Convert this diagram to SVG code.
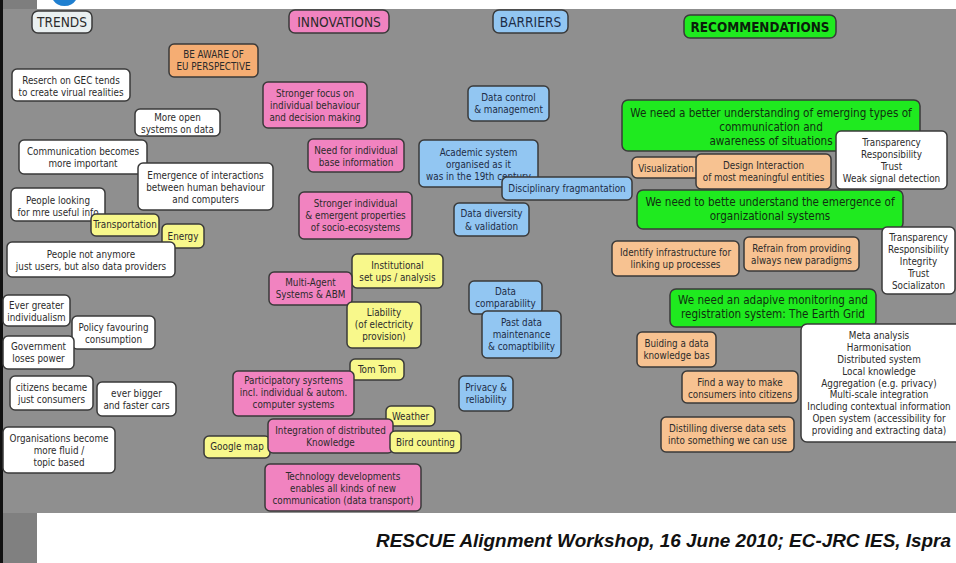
<svg xmlns="http://www.w3.org/2000/svg" width="956" height="563" viewBox="0 0 956 563">
  <style>
    .node rect { stroke: #3a3a3a; stroke-width: 1.5; }
    .node text { font-family: "DejaVu Sans Condensed", "DejaVu Sans", sans-serif; font-size: 9.8px; text-anchor: middle; fill: #2b2b2b; }
    .white rect { fill: #ffffff; }
    .pink rect { fill: #f183c0; }
    .blue rect { fill: #92c6f2; }
    .blue text { fill: #1d2c46; }
    .yellow rect { fill: #f8f88b; }
    .peach rect { fill: #f7c291; }
    .orange rect { fill: #f5ad73; }
    .green rect { fill: #1fea1f; }
    .green text { font-size: 11.6px; fill: #103010; }
    .head text { font-size: 13.6px; }
    .head.green text { font-weight: bold; font-size: 13.4px; fill: #0a1f0a; }
    .trends rect { fill: #e9eff0; }
    .footer { font-family: "Liberation Sans", Arial, sans-serif; font-weight: bold; font-style: italic; font-size: 19px; fill: #111111; }
  </style>

  <!-- page frame -->
  <rect x="0" y="0" width="956" height="563" fill="#ffffff"/>
  <rect x="3" y="0" width="34" height="9" fill="#7e7e7e"/>
  <rect x="3" y="9" width="953" height="504" fill="#8f8f8f"/>
  <rect x="3" y="513" width="34" height="50" fill="#808080"/>
  <rect x="0" y="0" width="3" height="563" fill="#111111"/>
  <path d="M53,0 L76,0 Q72,6 64.5,6 Q57,6 53,0 Z" fill="#1f7fd0"/>

  <g id="connectors"/>

  <!-- column headings -->
  <g id="h-trends" class="node head trends"><rect x="32" y="11" width="60" height="22" rx="6"/><text x="62" y="27">TRENDS</text></g>
  <g id="h-innovations" class="node head pink"><rect x="289" y="10" width="100" height="23" rx="6"/><text x="339" y="26.5">INNOVATIONS</text></g>
  <g id="h-barriers" class="node head blue"><rect x="493" y="10" width="75" height="23" rx="6"/><text x="530.5" y="26.5">BARRIERS</text></g>
  <g id="h-recommendations" class="node head green"><rect x="684" y="15" width="152" height="23" rx="6"/><text x="760" y="31.5">RECOMMENDATIONS</text></g>

  <!-- trends -->
  <g id="t-gec" class="node white"><rect x="12" y="69" width="118" height="32" rx="5"/><text x="71" y="84">Reserch on GEC tends</text><text x="71" y="96">to create virual realities</text></g>
  <g id="t-open" class="node white"><rect x="135" y="109" width="85" height="27" rx="5"/><text x="177.5" y="121">More open</text><text x="177.5" y="133">systems on data</text></g>
  <g id="t-communication" class="node white"><rect x="19" y="140" width="128" height="34" rx="5"/><text x="83" y="155">Communication becomes</text><text x="83" y="167">more important</text></g>
  <g id="t-emergence" class="node white"><rect x="138" y="163" width="135" height="47" rx="5"/><text x="205.5" y="179">Emergence of interactions</text><text x="205.5" y="191">between human behaviour</text><text x="205.5" y="203">and computers</text></g>
  <g id="t-info" class="node white"><rect x="11" y="188" width="94" height="33" rx="5"/><text x="58" y="204">People looking</text><text x="58" y="216">for mre useful info</text></g>
  <g id="y-transportation" class="node yellow"><rect x="91" y="214" width="68" height="22" rx="5"/><text x="125" y="228">Transportation</text></g>
  <g id="y-energy" class="node yellow"><rect x="162" y="224" width="42" height="24" rx="5"/><text x="183" y="240">Energy</text></g>
  <g id="t-providers" class="node white"><rect x="7" y="242" width="168" height="35" rx="5"/><text x="91" y="258">People not anymore</text><text x="91" y="270">just users, but also data providers</text></g>
  <g id="t-individualism" class="node white"><rect x="3" y="295" width="67" height="31" rx="5"/><text x="36.5" y="309">Ever greater</text><text x="36.5" y="321">individualism</text></g>
  <g id="t-policy" class="node white"><rect x="72" y="316" width="83" height="33" rx="5"/><text x="113.5" y="331">Policy favouring</text><text x="113.5" y="343">consumption</text></g>
  <g id="t-government" class="node white"><rect x="3" y="336" width="71" height="33" rx="5"/><text x="38.5" y="350">Government</text><text x="38.5" y="362">loses power</text></g>
  <g id="t-consumers" class="node white"><rect x="10" y="376" width="83" height="34" rx="5"/><text x="51.5" y="391">citizens became</text><text x="51.5" y="403">just consumers</text></g>
  <g id="t-cars" class="node white"><rect x="97" y="382" width="79" height="34" rx="5"/><text x="136.5" y="397">ever bigger</text><text x="136.5" y="409">and faster cars</text></g>
  <g id="t-organisations" class="node white"><rect x="3" y="427" width="112" height="46" rx="5"/><text x="59" y="442">Organisations become</text><text x="59" y="454">more fluid /</text><text x="59" y="466">topic based</text></g>

  <!-- innovations -->
  <g id="o-eu" class="node orange"><rect x="169" y="44" width="89" height="33" rx="5"/><text x="213.5" y="58">BE AWARE OF</text><text x="213.5" y="70">EU PERSPECTIVE</text></g>
  <g id="p-focus" class="node pink"><rect x="263" y="82" width="104" height="46" rx="5"/><text x="315" y="97">Stronger focus on</text><text x="315" y="109">individual behaviour</text><text x="315" y="121">and decision making</text></g>
  <g id="p-base" class="node pink"><rect x="308" y="139" width="96" height="33" rx="5"/><text x="356" y="154">Need for individual</text><text x="356" y="166">base information</text></g>
  <g id="p-properties" class="node pink"><rect x="299" y="192" width="113" height="47" rx="5"/><text x="355.5" y="207">Stronger individual</text><text x="355.5" y="219">&amp; emergent properties</text><text x="355.5" y="231">of socio-ecosystems</text></g>
  <g id="y-institutional" class="node yellow"><rect x="352" y="254" width="91" height="34" rx="5"/><text x="397.5" y="269">Institutional</text><text x="397.5" y="281">set ups / analysis</text></g>
  <g id="p-mas" class="node pink"><rect x="269" y="272" width="83" height="33" rx="5"/><text x="310.5" y="286">Multi-Agent</text><text x="310.5" y="298">Systems &amp; ABM</text></g>
  <g id="y-liability" class="node yellow"><rect x="347" y="302" width="74" height="46" rx="5"/><text x="384" y="316">Liability</text><text x="384" y="328">(of electricity</text><text x="384" y="340">provision)</text></g>
  <g id="y-tomtom" class="node yellow"><rect x="350" y="359" width="54" height="21" rx="5"/><text x="377" y="373">Tom Tom</text></g>
  <g id="p-participatory" class="node pink"><rect x="233" y="371" width="121" height="45" rx="5"/><text x="293.5" y="384">Participatory sysrtems</text><text x="293.5" y="396">incl. individual &amp; autom.</text><text x="293.5" y="408">computer systems</text></g>
  <g id="y-weather" class="node yellow"><rect x="386" y="406" width="49" height="20" rx="5"/><text x="410.5" y="420">Weather</text></g>
  <g id="y-google" class="node yellow"><rect x="204" y="436" width="66" height="22" rx="5"/><text x="237" y="450">Google map</text></g>
  <g id="p-integration" class="node pink"><rect x="268" y="419" width="125" height="34" rx="5"/><text x="330.5" y="434">Integration of distributed</text><text x="330.5" y="446">Knowledge</text></g>
  <g id="y-bird" class="node yellow"><rect x="390" y="431" width="71" height="22" rx="5"/><text x="425.5" y="446">Bird counting</text></g>
  <g id="p-technology" class="node pink"><rect x="265" y="464" width="156" height="47" rx="5"/><text x="343" y="480">Technology developments</text><text x="343" y="492">enables all kinds of new</text><text x="343" y="504">communication (data transport)</text></g>

  <!-- barriers -->
  <g id="b-control" class="node blue"><rect x="468" y="86" width="81" height="35" rx="5"/><text x="508.5" y="101">Data control</text><text x="508.5" y="113">&amp; management</text></g>
  <g id="b-academic" class="node blue"><rect x="419" y="140" width="119" height="47" rx="5"/><text x="478.5" y="156">Academic system</text><text x="478.5" y="168">organised as it</text><text x="478.5" y="180">was in the 19th century</text></g>
  <g id="b-fragmentation" class="node blue"><rect x="502" y="177" width="130" height="23" rx="5"/><text x="567" y="192">Disciplinary fragmantation</text></g>
  <g id="b-diversity" class="node blue"><rect x="454" y="203" width="75" height="33" rx="5"/><text x="491.5" y="217">Data diversity</text><text x="491.5" y="230">&amp; validation</text></g>
  <g id="b-comparability" class="node blue"><rect x="469" y="281" width="73" height="33" rx="5"/><text x="505.5" y="295">Data</text><text x="505.5" y="307">comparability</text></g>
  <g id="b-past" class="node blue"><rect x="482" y="311" width="79" height="47" rx="5"/><text x="521.5" y="326">Past data</text><text x="521.5" y="338">maintenance</text><text x="521.5" y="350">&amp; comaptibility</text></g>
  <g id="b-privacy" class="node blue"><rect x="459" y="376" width="54" height="35" rx="5"/><text x="486" y="391">Privacy &amp;</text><text x="486" y="403">reliability</text></g>

  <!-- recommendations -->
  <g id="g-communication" class="node green"><rect x="622" y="100" width="298" height="51" rx="6"/><text x="771" y="117">We need a better understanding of emerging types of</text><text x="771" y="131">communication and</text><text x="771" y="145">awareness of situations</text></g>
  <g id="w-transparency" class="node white"><rect x="836" y="131" width="111" height="58" rx="5"/><text x="891.5" y="146">Transparency</text><text x="891.5" y="158">Responsibility</text><text x="891.5" y="170">Trust</text><text x="891.5" y="182">Weak signal detection</text></g>
  <g id="r-visualization" class="node peach"><rect x="632" y="157" width="68" height="21" rx="5"/><text x="666" y="172">Visualization</text></g>
  <g id="r-design" class="node peach"><rect x="696" y="154" width="135" height="35" rx="5"/><text x="763.5" y="169">Design Interaction</text><text x="763.5" y="181">of most meaningful entities</text></g>
  <g id="g-organizational" class="node green"><rect x="637" y="190" width="266" height="39" rx="6"/><text x="770" y="206">We need to bette understand the emergence of</text><text x="770" y="220">organizational systems</text></g>
  <g id="w-integrity" class="node white"><rect x="882" y="227" width="73" height="67" rx="5"/><text x="918.5" y="241">Transparency</text><text x="918.5" y="253">Responsibility</text><text x="918.5" y="265">Integrity</text><text x="918.5" y="277">Trust</text><text x="918.5" y="289">Socializaton</text></g>
  <g id="r-infrastructure" class="node peach"><rect x="612" y="241" width="127" height="35" rx="5"/><text x="675.5" y="256">Identify infrastructure for</text><text x="675.5" y="268">linking up processes</text></g>
  <g id="r-paradigms" class="node peach"><rect x="744" y="237" width="115" height="34" rx="5"/><text x="801.5" y="252">Refrain from providing</text><text x="801.5" y="264">always new paradigms</text></g>
  <g id="g-earthgrid" class="node green"><rect x="670" y="289" width="206" height="38" rx="6"/><text x="773" y="304">We need an adapive monitoring and</text><text x="773" y="318">registration system: The Earth Grid</text></g>
  <g id="r-knowledge" class="node peach"><rect x="637" y="332" width="79" height="35" rx="5"/><text x="676.5" y="347">Buiding a data</text><text x="676.5" y="359">knowledge bas</text></g>
  <g id="w-meta" class="node white"><rect x="801" y="324" width="160" height="118" rx="6"/>
    <text x="879" y="339">Meta analysis</text>
    <text x="879" y="351">Harmonisation</text>
    <text x="879" y="363">Distributed system</text>
    <text x="879" y="375">Local knowledge</text>
    <text x="879" y="387">Aggregation (e.g. privacy)</text>
    <text x="879" y="398">Multi-scale integration</text>
    <text x="879" y="410">Including contextual information</text>
    <text x="879" y="422">Open system (accessibility for</text>
    <text x="879" y="434">providing and extracting data)</text>
  </g>
  <g id="r-citizens" class="node peach"><rect x="682" y="371" width="116" height="32" rx="5"/><text x="740" y="386">Find a way to make</text><text x="740" y="398">consumers into citizens</text></g>
  <g id="r-distilling" class="node peach"><rect x="661" y="417" width="133" height="35" rx="5"/><text x="727.5" y="432">Distilling diverse data sets</text><text x="727.5" y="444">into something we can use</text></g>

  <text class="footer" x="376" y="547" textLength="575" lengthAdjust="spacingAndGlyphs">RESCUE Alignment Workshop, 16 June 2010; EC-JRC IES, Ispra</text>
</svg>
